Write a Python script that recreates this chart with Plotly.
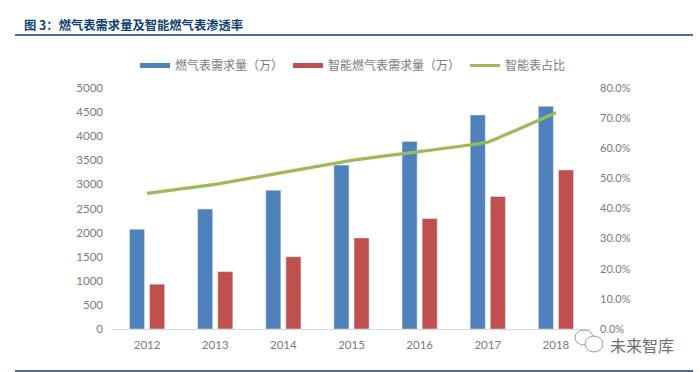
import plotly.graph_objects as go

years = ["2012", "2013", "2014", "2015", "2016", "2017", "2018"]
gas_meter = [2070, 2490, 2880, 3400, 3890, 4440, 4620]
smart_meter = [930, 1190, 1500, 1890, 2290, 2750, 3300]
smart_share = [45.0, 48.0, 52.0, 56.0, 58.9, 62.0, 71.8]

names = ["燃气表需求量（万）", "智能燃气表需求量（万）", "智能表占比"]
title = "图 3：燃气表需求量及智能燃气表渗透率"
watermark = "未来智库"
BLUE, RED, GREEN = "#4f81bd", "#c0504d", "#9bbb59"
NAVY = "#0f3f73"
GREY = "#7a7a7a"
W, H = 700, 372
L, R, T, B = 113, 590, 88, 329

fig = go.Figure()
fig.add_bar(x=years, y=gas_meter, name=names[0], marker_color=BLUE, showlegend=False, yaxis="y")
fig.add_bar(x=years, y=smart_meter, name=names[1], marker_color=RED, showlegend=False, yaxis="y")
fig.add_scatter(x=years, y=smart_share, name=names[2], mode="lines", yaxis="y2", showlegend=False,
                line=dict(color=GREEN, width=3.2, shape="spline", smoothing=0.12))
for n, c, w in zip(names, [BLUE, RED, GREEN], [5, 5, 3]):
    fig.add_scatter(x=[None], y=[None], name=n, mode="lines", line=dict(color=c, width=w), yaxis="y")

fig.update_layout(
    width=W, height=H, margin=dict(l=0, r=0, t=0, b=0, autoexpand=False),
    paper_bgcolor="white", plot_bgcolor="white",
    barmode="group", bargap=0.41, bargroupgap=0.25,
    font=dict(family="Lato, Noto Sans CJK SC", color=GREY, size=11),
    xaxis=dict(domain=[L / W, R / W], type="category", showgrid=False, showline=True,
               linecolor="#d9d9d9", linewidth=1, ticks="", tickfont=dict(size=11.5), anchor="y",
               ticklabelstandoff=5, automargin=False),
    yaxis=dict(domain=[1 - B / H, 1 - T / H], range=[0, 5000], dtick=500, showgrid=False,
               showline=False, ticks="", tickfont=dict(size=11.5), zeroline=False, ticklabelstandoff=9,
               automargin=False),
    yaxis2=dict(domain=[1 - B / H, 1 - T / H], range=[0, 80], dtick=10, overlaying="y", side="right",
                showgrid=False, ticks="", ticksuffix="%", tickformat=".1f", zeroline=False,
                tickfont=dict(size=11), ticklabelstandoff=9, automargin=False),
    legend=dict(orientation="h", x=135 / W, y=1 - 51 / H, xanchor="left", yanchor="top",
                font=dict(family="Noto Sans CJK SC", size=12, color=GREY),
                itemwidth=30, tracegroupgap=0, bgcolor="rgba(0,0,0,0)"),
    shapes=[
        dict(type="line", xref="paper", yref="paper", x0=15 / W, x1=693 / W, y0=1 - 35 / H, y1=1 - 35 / H,
             line=dict(color=NAVY, width=1.5)),
        dict(type="line", xref="paper", yref="paper", x0=15 / W, x1=693 / W, y0=1 - 371 / H, y1=1 - 371 / H,
             line=dict(color=NAVY, width=1.5)),
        dict(type="circle", xref="paper", yref="paper", x0=575 / W, x1=593 / W, y0=1 - 345 / H, y1=1 - 330 / H,
             line=dict(color="#9a9a9a", width=1), fillcolor="rgba(255,255,255,0.6)"),
        dict(type="circle", xref="paper", yref="paper", x0=585 / W, x1=603 / W, y0=1 - 352 / H, y1=1 - 336 / H,
             line=dict(color="#9a9a9a", width=1), fillcolor="white"),
    ],
    annotations=[
        dict(text="<b>" + title + "</b>", xref="paper", yref="paper", x=22 / W, y=1 - 25 / H, xanchor="left",
             yanchor="middle", showarrow=False, font=dict(family="Noto Sans CJK SC", size=12.3, color=NAVY)),
        dict(text=watermark, xref="paper", yref="paper", x=608 / W, y=1 - 345 / H, xanchor="left",
             yanchor="middle", showarrow=False, font=dict(family="Noto Sans CJK SC", size=16, color="#707070")),
    ],
)
fig.write_html("out.html", config=dict(displayModeBar=False),
               post_script="document.body.style.margin='0';")
